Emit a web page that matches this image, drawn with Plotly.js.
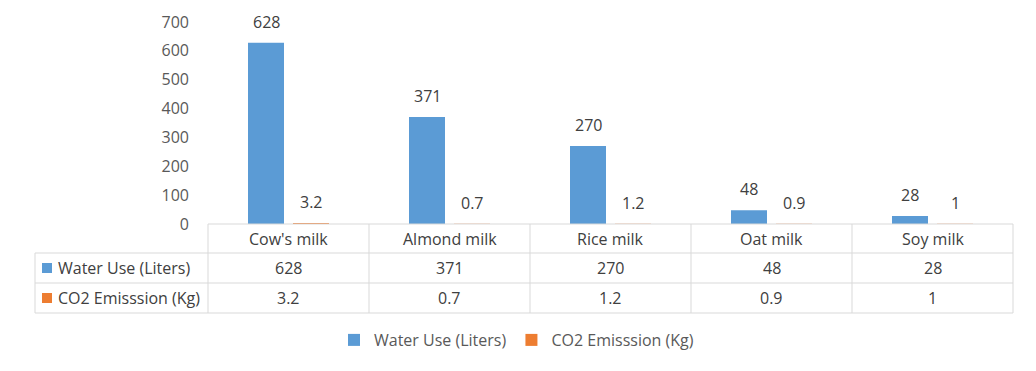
<!DOCTYPE html>
<html><head><meta charset="utf-8">
<script src="https://cdn.plot.ly/plotly-3.0.1.min.js"></script>
<style>html,body{margin:0;padding:0;background:#fff}#chart{width:1036px;height:371px}</style>
</head><body><div id="chart"></div>
<script>
const categories = ["Cow's milk", "Almond milk", "Rice milk", "Oat milk", "Soy milk"];
const waterUse = [628, 371, 270, 48, 28];
const co2 = [3.2, 0.7, 1.2, 0.9, 1];
const seriesNames = ["Water Use (Liters)", "CO2 Emisssion (Kg)"];
const seriesColors = ["#5B9BD5", "#ED7D31"];
const yTicks = [0, 100, 200, 300, 400, 500, 600, 700];

const W = 1036, H = 371;
const M = {l: 208, r: 23, t: 22, b: 147};
const PW = W - M.l - M.r, PH = H - M.t - M.b;
const px2x = p => (p - M.l) / PW;
const py2y = p => (H - M.b - p) / PH;
const FONT = "Open Sans, sans-serif";
const TXT = "#404040", GRID = "#d9d9d9";

const series = [waterUse, co2];
const traces = series.map((vals, i) => ({
  type: "bar", x: categories, y: vals, name: seriesNames[i],
  marker: {color: seriesColors[i]}, hoverinfo: "skip"
}));

const shapes = [], annotations = [];
// bar value labels
series.forEach((vals, i) => {
  vals.forEach((v, j) => annotations.push({
    x: categories[j], y: v, xref: "x", yref: "y", text: String(v), showarrow: false,
    xshift: i === 0 ? -22.5 : 22.5, yshift: 21, yanchor: "middle", xanchor: "center",
    font: {family: FONT, size: 16, color: TXT}
  }));
});

// data table geometry
const rowTops = [224, 253, 283, 313];
const tableLeft = 35;
const line = (x0, y0, x1, y1) => shapes.push({type: "line", xref: "paper", yref: "paper",
  x0: px2x(x0), y0: py2y(y0), x1: px2x(x1), y1: py2y(y1), line: {color: GRID, width: 1}});
line(M.l, rowTops[0], W - M.r, rowTops[0]);
for (let r = 1; r < rowTops.length; r++) line(tableLeft, rowTops[r], W - M.r, rowTops[r]);
line(tableLeft, rowTops[1], tableLeft, rowTops[3]);
for (let c = 0; c <= categories.length; c++) {
  const xp = M.l + c * PW / categories.length;
  line(xp, rowTops[0], xp, rowTops[3]);
}
// header row: category names
categories.forEach(c => annotations.push({x: c, xref: "x", yref: "paper", xanchor: "center",
  y: py2y((rowTops[0] + rowTops[1]) / 2), yanchor: "middle", text: c, showarrow: false,
  font: {family: FONT, size: 16, color: TXT}}));
// body rows
series.forEach((vals, i) => {
  const yc = (rowTops[i + 1] + rowTops[i + 2]) / 2;
  shapes.push({type: "rect", xref: "paper", yref: "paper", x0: px2x(42), x1: px2x(52),
    y0: py2y(yc - 5), y1: py2y(yc + 5), fillcolor: seriesColors[i], line: {width: 0}});
  annotations.push({x: px2x(56), xref: "paper", xanchor: "left", y: py2y(yc), yref: "paper",
    yanchor: "middle", text: seriesNames[i], showarrow: false, font: {family: FONT, size: 16, color: TXT}});
  vals.forEach((v, j) => annotations.push({x: categories[j], xref: "x", xanchor: "center",
    y: py2y(yc), yref: "paper", yanchor: "middle",
    text: String(v), showarrow: false, font: {family: FONT, size: 16, color: TXT}}));
});

const layout = {
  width: W, height: H, margin: M, paper_bgcolor: "#fff", plot_bgcolor: "#fff",
  font: {family: FONT, size: 16, color: "#595959"},
  barmode: "group", bargap: 0.441, bargroupgap: 0.2,
  xaxis: {type: "category", range: [-0.5, 4.5], showticklabels: false, showgrid: false,
    zeroline: false, showline: false, ticks: "", fixedrange: true},
  yaxis: {range: [0, 700], tickvals: yTicks, showgrid: false, zeroline: false, showline: false,
    ticks: "", ticklabelstandoff: 18, tickfont: {family: FONT, size: 16, color: "#595959"}, fixedrange: true},
  showlegend: true,
  legend: {orientation: "h", x: px2x(334), xanchor: "left", y: py2y(340), yanchor: "middle",
    font: {family: FONT, size: 16, color: "#595959"}, bgcolor: "rgba(0,0,0,0)"},
  shapes: shapes, annotations: annotations
};
Plotly.newPlot("chart", traces, layout, {displayModeBar: false, staticPlot: true});
</script></body></html>
